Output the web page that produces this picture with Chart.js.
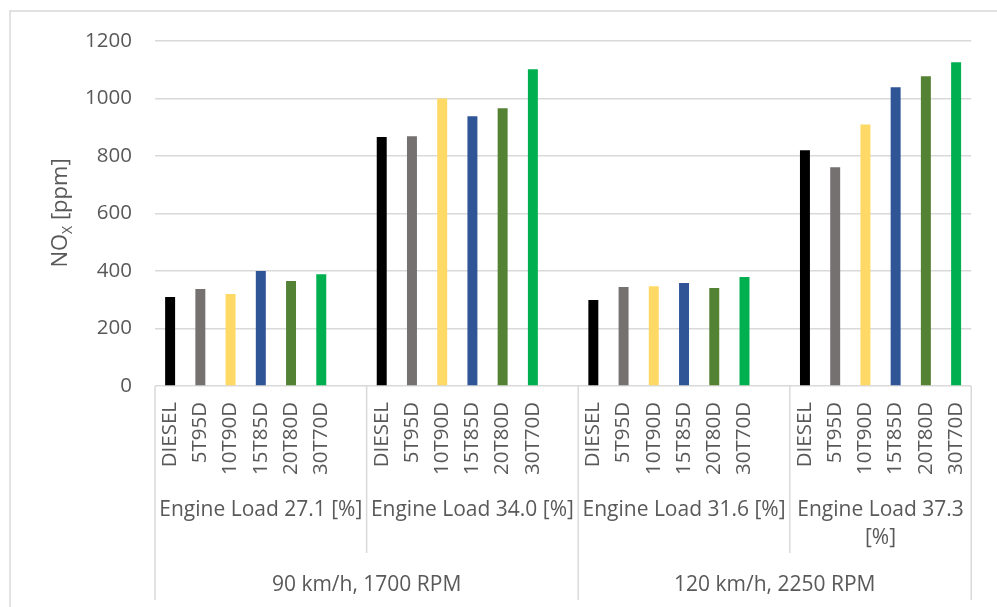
<!DOCTYPE html>
<html>
<head>
<meta charset="utf-8">
<script src="https://cdn.jsdelivr.net/npm/chart.js@4.4.1/dist/chart.umd.min.js"></script>
<style>
  body { margin: 0; background: #fff; }
  #wrap { width: 997px; height: 607px; }
</style>
</head>
<body>
<div id="wrap"><canvas id="noxChart" width="997" height="607"></canvas></div>
<script>
// Data
const fuels = ['DIESEL', '5T95D', '10T90D', '15T85D', '20T80D', '30T70D'];
const fuelColors = ['#000000', '#767171', '#FFD966', '#2F5597', '#548235', '#00B050'];
const engineLoads = ['Engine Load 27.1 [%]', 'Engine Load 34.0 [%]', 'Engine Load 31.6 [%]', 'Engine Load 37.3 [%]'];
const speeds = ['90 km/h, 1700 RPM', '120 km/h, 2250 RPM'];
const load271 = [310, 337, 320, 400, 365, 389];
const load340 = [866, 869, 1000, 938, 966, 1102];
const load316 = [299, 344, 347, 358, 341, 379];
const load373 = [820, 761, 910, 1039, 1077, 1126];
const yTicks = [0, 200, 400, 600, 800, 1000, 1200];

const loadValues = [load271, load340, load316, load373];
const textColor = '#595959';
const lineColor = '#d9d9d9';
const fontFamily = '"Open Sans"';

// Flatten groups into categories; an empty slot separates the groups
const labels = [];
const values = [];
const colors = [];
const groupRanges = [];
loadValues.forEach((vals, g) => {
  const start = labels.length;
  vals.forEach((v, i) => {
    labels.push(fuels[i]);
    values.push(v);
    colors.push(fuelColors[i]);
  });
  if (g < loadValues.length - 1) {
    labels.push('');
    values.push(null);
    colors.push('rgba(0,0,0,0)');
  }
  groupRanges.push({ start: start, end: labels.length });
});

function wrapText(ctx, text, maxWidth) {
  const words = text.split(' ');
  const lines = [];
  let line = '';
  words.forEach(w => {
    const test = line ? line + ' ' + w : w;
    if (ctx.measureText(test).width > maxWidth && line) {
      lines.push(line);
      line = w;
    } else {
      line = test;
    }
  });
  lines.push(line);
  return lines;
}

// Draws the grouped category rows, separators, axis title and outer frame
const groupLabelsPlugin = {
  id: 'groupLabels',
  afterDraw(chart) {
    const ctx = chart.ctx;
    const x = chart.scales.x;
    const area = chart.chartArea;
    const w = (x.right - x.left) / labels.length;
    const edge = i => x.left + i * w;

    ctx.save();
    ctx.strokeStyle = lineColor;
    ctx.lineWidth = 1.5;

    // outer frame
    ctx.strokeRect(10, 11, 1000, 620);

    // separators
    groupRanges.forEach((r, g) => {
      const outer = g % 2 === 0;
      const xs = edge(r.start);
      ctx.beginPath();
      ctx.moveTo(xs, area.bottom);
      ctx.lineTo(xs, outer ? 600 : 553);
      ctx.stroke();
    });
    ctx.beginPath();
    ctx.moveTo(edge(labels.length), area.bottom);
    ctx.lineTo(edge(labels.length), 600);
    ctx.stroke();

    // engine load row
    ctx.fillStyle = textColor;
    ctx.font = '21px ' + fontFamily;
    ctx.textAlign = 'center';
    ctx.textBaseline = 'middle';
    groupRanges.forEach((r, g) => {
      const x0 = edge(r.start);
      const x1 = edge(r.end);
      const lines = wrapText(ctx, engineLoads[g], x1 - x0 - 6);
      lines.forEach((ln, k) => {
        ctx.fillText(ln, (x0 + x1) / 2, 510 + k * 28);
      });
    });

    // speed row
    speeds.forEach((s, k) => {
      const x0 = edge(groupRanges[k * 2].start);
      const x1 = edge(groupRanges[k * 2 + 1].end);
      ctx.fillText(s, (x0 + x1) / 2, 585);
    });

    // y axis title with subscript
    ctx.translate(67, 213);
    ctx.rotate(-Math.PI / 2);
    ctx.textAlign = 'left';
    ctx.textBaseline = 'alphabetic';
    const mainFont = '22px ' + fontFamily;
    const subFont = '14px ' + fontFamily;
    ctx.font = mainFont;
    const wNO = ctx.measureText('NO').width;
    const wRest = ctx.measureText(' [ppm]').width;
    ctx.font = subFont;
    const wX = ctx.measureText('X').width;
    let cx = -(wNO + wX + wRest) / 2;
    ctx.font = mainFont;
    ctx.fillText('NO', cx, 0);
    cx += wNO;
    ctx.font = subFont;
    ctx.fillText('X', cx, 5);
    cx += wX;
    ctx.font = mainFont;
    ctx.fillText(' [ppm]', cx, 0);
    ctx.restore();
  }
};

const ctx = document.getElementById('noxChart').getContext('2d');

new Chart(ctx, {
  type: 'bar',
  data: {
    labels: labels,
    datasets: [{
      data: values,
      backgroundColor: colors,
      borderWidth: 0,
      categoryPercentage: 1,
      barPercentage: 0.33
    }]
  },
  options: {
    responsive: false,
    animation: false,
    layout: {
      padding: { top: 41, right: 16, bottom: 0, left: 0 }
    },
    plugins: {
      legend: { display: false },
      tooltip: { enabled: false }
    },
    scales: {
      x: {
        grid: { display: false, drawTicks: false },
        border: { display: false },
        afterFit: scale => { scale.height = 221; },
        ticks: {
          autoSkip: false,
          minRotation: 90,
          maxRotation: 90,
          padding: 16,
          color: textColor,
          font: { family: fontFamily, size: 20.5 }
        }
      },
      y: {
        min: 0,
        max: 1200,
        afterFit: scale => { scale.width = 155; },
        afterBuildTicks: scale => {
          scale.ticks = yTicks.map(v => ({ value: v }));
        },
        grid: { color: lineColor, lineWidth: 1.5, drawTicks: false },
        border: { display: false },
        ticks: {
          padding: 23,
          color: textColor,
          font: { family: fontFamily, size: 20.5 },
          callback: v => String(v)
        }
      }
    }
  },
  plugins: [groupLabelsPlugin]
});
</script>
</body>
</html>
